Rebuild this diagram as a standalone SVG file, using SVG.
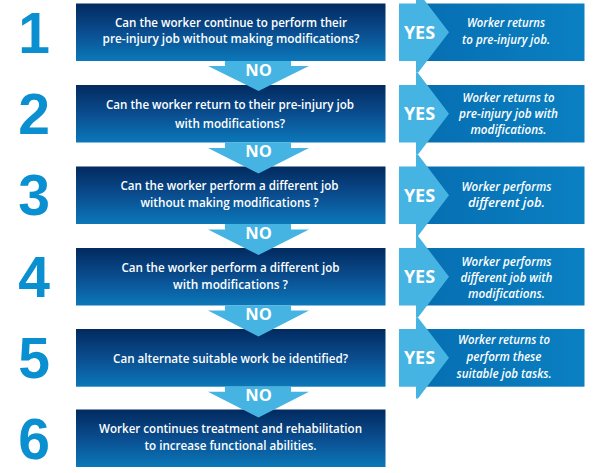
<svg xmlns="http://www.w3.org/2000/svg" width="598" height="473" viewBox="0 0 598 473">
<defs>
<linearGradient id="gq" x1="0" y1="0" x2="0" y2="1">
<stop offset="0" stop-color="#022a5f"/>
<stop offset="0.5" stop-color="#0a4d8f"/>
<stop offset="1" stop-color="#0b78b9"/>
</linearGradient>
<linearGradient id="ga" x1="0" y1="0" x2="1" y2="0">
<stop offset="0" stop-color="#066fb2"/>
<stop offset="1" stop-color="#0a80c2"/>
</linearGradient>
</defs>
<style>
.q{fill:url(#gq)}
.a{fill:url(#ga)}
.lb{fill:#45b4e2}
.num{font-family:"Liberation Sans",Arial,sans-serif;font-weight:700;font-size:57px;fill:#0a8fd1;text-anchor:middle}
.qt{font-family:"Open Sans","Liberation Sans",sans-serif;font-weight:600;font-size:12.5px;fill:#fff;text-anchor:middle}
.at{font-family:"Open Sans","Liberation Sans",sans-serif;font-weight:600;font-style:italic;font-size:12.5px;fill:#fff;text-anchor:middle}
.yes{font-family:"Open Sans","Liberation Sans",sans-serif;font-weight:700;font-size:18px;fill:#fff;text-anchor:middle}
.no{font-family:"Open Sans","Liberation Sans",sans-serif;font-weight:700;font-size:16.5px;fill:#fff;text-anchor:middle}
</style>
<rect width="598" height="473" fill="#fff"/>

<g id="step1">
<text class="num" x="34" y="52.5">1</text>
<rect class="q" x="76" y="3.5" width="309.5" height="57.5"/>
<text class="qt" x="231" y="26.7" textLength="232" lengthAdjust="spacingAndGlyphs">Can the worker continue to perform their</text>
<text class="qt" x="231" y="42.7" textLength="257" lengthAdjust="spacingAndGlyphs">pre-injury job without making modifications?</text>
</g>
<g id="outcome1">
<rect class="a" x="424" y="3.5" width="160.5" height="57.5"/>
<text class="at" x="506" y="27" textLength="78" lengthAdjust="spacingAndGlyphs">Worker returns</text>
<text class="at" x="506" y="43.5" textLength="88" lengthAdjust="spacingAndGlyphs">to pre-injury job.</text>
</g>

<g id="step2">
<text class="num" x="34" y="133.5">2</text>
<rect class="q" x="76" y="85" width="309.5" height="57.5"/>
<text class="qt" x="230" y="109" textLength="248" lengthAdjust="spacingAndGlyphs">Can the worker return to their pre-injury job</text>
<text class="qt" x="230" y="127.7" textLength="110" lengthAdjust="spacingAndGlyphs">with modifications?</text>
</g>
<g id="outcome2">
<rect class="a" x="424" y="85" width="160.5" height="57.5"/>
<text class="at" x="508.5" y="102" textLength="92" lengthAdjust="spacingAndGlyphs">Worker returns to</text>
<text class="at" x="508.5" y="118" textLength="99" lengthAdjust="spacingAndGlyphs">pre-injury job with</text>
<text class="at" x="508.5" y="134" textLength="76" lengthAdjust="spacingAndGlyphs">modifications.</text>
</g>

<g id="step3">
<text class="num" x="34" y="215">3</text>
<rect class="q" x="76" y="166.5" width="309.5" height="57.5"/>
<text class="qt" x="229.5" y="190" textLength="218" lengthAdjust="spacingAndGlyphs">Can the worker perform a different job</text>
<text class="qt" x="229.5" y="206.7" textLength="178" lengthAdjust="spacingAndGlyphs">without making modifications ?</text>
</g>
<g id="outcome3">
<rect class="a" x="424" y="166.5" width="160.5" height="57.5"/>
<text class="at" x="506.5" y="190.5" textLength="90" lengthAdjust="spacingAndGlyphs">Worker performs</text>
<text class="at" x="506.5" y="207" textLength="77" lengthAdjust="spacingAndGlyphs">different job.</text>
</g>

<g id="step4">
<text class="num" x="34" y="296.5">4</text>
<rect class="q" x="76" y="248" width="309.5" height="57.5"/>
<text class="qt" x="230.5" y="272.3" textLength="218" lengthAdjust="spacingAndGlyphs">Can the worker perform a different job</text>
<text class="qt" x="230.5" y="289" textLength="115" lengthAdjust="spacingAndGlyphs">with modifications ?</text>
</g>
<g id="outcome4">
<rect class="a" x="424" y="248" width="160.5" height="57.5"/>
<text class="at" x="506.5" y="266" textLength="90" lengthAdjust="spacingAndGlyphs">Worker performs</text>
<text class="at" x="506.5" y="282" textLength="92" lengthAdjust="spacingAndGlyphs">different job with</text>
<text class="at" x="506.5" y="298" textLength="77" lengthAdjust="spacingAndGlyphs">modifications.</text>
</g>

<g id="step5">
<text class="num" x="34" y="378">5</text>
<rect class="q" x="76" y="329" width="309.5" height="57.7"/>
<text class="qt" x="230.5" y="363" textLength="235" lengthAdjust="spacingAndGlyphs">Can alternate suitable work be identified?</text>
</g>
<g id="outcome5">
<rect class="a" x="424" y="329" width="160.5" height="57.7"/>
<text class="at" x="504" y="344" textLength="92" lengthAdjust="spacingAndGlyphs">Worker returns to</text>
<text class="at" x="504" y="361" textLength="75" lengthAdjust="spacingAndGlyphs">perform these</text>
<text class="at" x="504" y="378" textLength="95" lengthAdjust="spacingAndGlyphs">suitable job tasks.</text>
</g>

<g id="step6">
<text class="num" x="34" y="458.5">6</text>
<rect class="q" x="76" y="409.5" width="309.5" height="57.5"/>
<text class="qt" x="230.5" y="433.3" textLength="263" lengthAdjust="spacingAndGlyphs">Worker continues treatment and rehabilitation</text>
<text class="qt" x="230.5" y="449.5" textLength="172" lengthAdjust="spacingAndGlyphs">to increase functional abilities.</text>
</g>

<g id="connectors">
<g id="no-arrows">
<polygon class="lb" points="225,61 291,61 291,66 309,66 258.5,91 208,66 225,66"/>
<polygon class="lb" points="225,142.5 291,142.5 291,148 309,148 258.5,173.5 208,148 225,148"/>
<polygon class="lb" points="225,224 291,224 291,229.5 309,229.5 258.5,255 208,229.5 225,229.5"/>
<polygon class="lb" points="225,305.5 291,305.5 291,310.5 309,310.5 258.5,336.5 208,310.5 225,310.5"/>
<polygon class="lb" points="225,386.7 291,386.7 291,391.7 309,391.7 258.5,417.5 208,391.7 225,391.7"/>
<text class="no" x="258.5" y="75.5">NO</text>
<text class="no" x="258.5" y="157">NO</text>
<text class="no" x="258.5" y="238.5">NO</text>
<text class="no" x="258.5" y="320">NO</text>
<text class="no" x="258.5" y="401">NO</text>
</g>
<g id="yes-arrows">
<polygon class="lb" points="399,3.5 416,3.5 416,-8.25 418,-8.25 449,32.25 418,72.75 416,72.75 416,61 399,61"/>
<polygon class="lb" points="399,85 416,85 416,73 418,73 449,113.75 418,154.5 416,154.5 416,142.5 399,142.5"/>
<polygon class="lb" points="399,166.5 416,166.5 416,154.5 418,154.5 449,195.25 418,236 416,236 416,224 399,224"/>
<polygon class="lb" points="399,248 416,248 416,236 418,236 449,276.75 418,317.5 416,317.5 416,305.5 399,305.5"/>
<polygon class="lb" points="399,329 416,329 416,317.5 418,317.5 449,357.85 418,398.5 416,398.5 416,386.7 399,386.7"/>
<text class="yes" x="419.5" y="38.5">YES</text>
<text class="yes" x="419.5" y="120">YES</text>
<text class="yes" x="419.5" y="201.5">YES</text>
<text class="yes" x="419.5" y="283">YES</text>
<text class="yes" x="419.5" y="364">YES</text>
</g>
</g>
</svg>
